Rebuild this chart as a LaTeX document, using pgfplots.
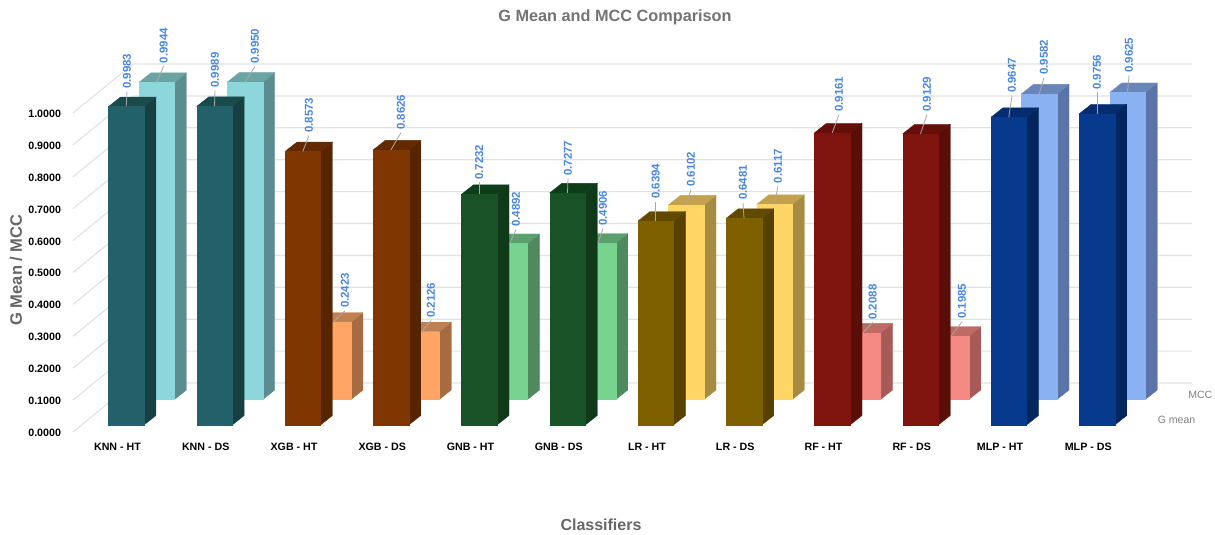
\documentclass[border=0pt]{standalone}
\usepackage{fontspec}
\setmainfont{Liberation Sans}
\usepackage{pgfplots}
\usepackage{pgfplotstable}
\pgfplotsset{compat=1.18}

% front, side and top face colours per classifier, G mean row (g) and MCC row (m)
\definecolor{gf0}{HTML}{22606A}\definecolor{gs0}{HTML}{173F42}\definecolor{gt0}{HTML}{194A4C}
\definecolor{mf0}{HTML}{8DD6DC}\definecolor{ms0}{HTML}{5A8C90}\definecolor{mt0}{HTML}{6BA5A3}
\definecolor{gf1}{HTML}{7F3600}\definecolor{gs1}{HTML}{572400}\definecolor{gt1}{HTML}{632A00}
\definecolor{mf1}{HTML}{FFA566}\definecolor{ms1}{HTML}{A66B40}\definecolor{mt1}{HTML}{C08050}
\definecolor{gf2}{HTML}{1A5228}\definecolor{gs2}{HTML}{0F3A1A}\definecolor{gt2}{HTML}{0E3D1A}
\definecolor{mf2}{HTML}{78D391}\definecolor{ms2}{HTML}{4E8A5E}\definecolor{mt2}{HTML}{5AA06E}
\definecolor{gf3}{HTML}{7F6000}\definecolor{gs3}{HTML}{574100}\definecolor{gt3}{HTML}{614A00}
\definecolor{mf3}{HTML}{FFD666}\definecolor{ms3}{HTML}{A68B42}\definecolor{mt3}{HTML}{C2A24E}
\definecolor{gf4}{HTML}{7F140E}\definecolor{gs4}{HTML}{590E08}\definecolor{gt4}{HTML}{660F0A}
\definecolor{mf4}{HTML}{F58A84}\definecolor{ms4}{HTML}{A85A56}\definecolor{mt4}{HTML}{BF6A64}
\definecolor{gf5}{HTML}{073A8C}\definecolor{gs5}{HTML}{04265E}\definecolor{gt5}{HTML}{052C6E}
\definecolor{mf5}{HTML}{8AB2F2}\definecolor{ms5}{HTML}{5A74A8}\definecolor{mt5}{HTML}{6887B8}
\definecolor{gridgray}{HTML}{E2E2E2}
\definecolor{labelblue}{HTML}{4A86E0}
\definecolor{leader}{HTML}{A8A8A8}

% One row per classifier; gdx/gup and mdx/mup place the value label relative to its bar
\pgfplotstableread{
c  group gmean  gdx   gup   mcc    mdx   mup
0  0     0.9983 0.75  17.5  0.9944 7     19
1  0     0.9989 0.5   18.4  0.9950 10    18
2  1     0.8573 6.25  18.5  0.2423 11.75 14
3  1     0.8626 10    19.8  0.2126 9.5   13.7
4  2     0.7232 0     14.3  0.4892 6.25  16.4
5  2     0.7277 0.5   16.9  0.4906 5     17
6  3     0.6394 0     22    0.6102 4.75  17.8
7  3     0.6481 -1    18    0.6117 3.5   21
8  4     0.9161 6.75  20.8  0.2088 10    13
9  4     0.9129 6.5   21.8  0.1985 11    17
10 5     0.9647 3.25  24    0.9582 4.75  18.8
11 5     0.9756 0     23.8  0.9625 1.5   19.5
}\scores

\newcommand{\ux}{88.25} % length of one category along x
\newcommand{\uy}{319}   % length of one unit along y

% #1 category, #2 value, #3 row shift x, #4 row shift y, #5 row letter, #6 group number
\newcommand{\cuboid}[6]{%
  \pgfmathsetmacro{\xl}{#1+(#3-17.75)/\ux}%
  \pgfmathsetmacro{\xr}{#1+(#3+17.75)/\ux}%
  \pgfmathsetmacro{\xdl}{\xl+12/\ux}%
  \pgfmathsetmacro{\xdr}{\xr+12/\ux}%
  \pgfmathsetmacro{\yb}{#4/\uy}%
  \pgfmathsetmacro{\yt}{#2+#4/\uy}%
  \pgfmathsetmacro{\ydb}{\yb+9.5/\uy}%
  \pgfmathsetmacro{\ydt}{\yt+9.5/\uy}%
  \edef\faces{%
    \noexpand\addplot[fill=#5s#6,draw=#5s#6,line width=0.25pt,forget plot] coordinates {(\xr,\yb)(\xdr,\ydb)(\xdr,\ydt)(\xr,\yt)} --cycle;
    \noexpand\addplot[fill=#5t#6,draw=#5t#6,line width=0.25pt,forget plot] coordinates {(\xl,\yt)(\xr,\yt)(\xdr,\ydt)(\xdl,\ydt)} --cycle;
    \noexpand\addplot[fill=#5f#6,draw=#5f#6,line width=0.25pt,forget plot] coordinates {(\xl,\yb)(\xr,\yb)(\xr,\yt)(\xl,\yt)} --cycle;
  }\faces
}

% #1 category, #2 value, #3 row shift x, #4 row shift y, #5 label shift x, #6 label rise
\newcommand{\barlabel}[6]{%
  \pgfmathsetmacro{\xa}{#1+#3/\ux}%
  \pgfmathsetmacro{\ya}{#2+#4/\uy}%
  \pgfmathsetmacro{\xb}{\xa+#5/\ux}%
  \pgfmathsetmacro{\yb}{\ya+#6/\uy}%
  \pgfmathsetmacro{\yc}{\ya+(#6-2.5)/\uy}%
  \edef\lab{%
    \noexpand\addplot[leader,line width=0.6pt,forget plot] coordinates {(\xa,\ya)(\xb,\yc)};
    \noexpand\node[rotate=90,anchor=west,inner sep=0pt,text=labelblue,
      font=\noexpand\fontsize{8.6}{10}\noexpand\selectfont\noexpand\bfseries]
      at (axis cs:\xb,\yb) {#2};
  }\lab
}

\begin{document}
\begin{tikzpicture}[x=1pt,y=1pt]
\useasboundingbox (-54.75,-77.25) rectangle (856.5,324);
\begin{axis}[
  scale only axis,
  width=797.25pt, height=239.25pt,
  xmin=-0.5042, xmax=11.541, ymin=0, ymax=1,
  clip=false,
  axis line style={draw=none},
  major tick length=0pt,
  xtick={0,1,2,3,4,5,6,7,8,9,10,11},
  xticklabels={KNN - HT,KNN - DS,XGB - HT,XGB - DS,GNB - HT,GNB - DS,LR - HT,LR - DS,RF - HT,RF - DS,MLP - HT,MLP - DS},
  ytick={0,0.1,0.2,0.3,0.4,0.5,0.6,0.7,0.8,0.9,1},
  /pgf/number format/fixed,
  /pgf/number format/fixed zerofill,
  /pgf/number format/precision=4,
  /pgf/number format/assume math mode=true,
  tick label style={font=\fontsize{8}{10}\selectfont\bfseries,text=black},
  xticklabel style={yshift=-4.6pt},
  yticklabel style={xshift=-5.5pt,yshift=-0.6pt},
  title={G Mean and MCC Comparison},
  title style={at={(axis description cs:0.5099,1.276)},anchor=center,text=black!55,
    font=\fontsize{12.2}{14}\selectfont\bfseries},
  xlabel={Classifiers},
  xlabel style={at={(axis description cs:0.4967,-0.2915)},anchor=center,text=black!60,
    font=\fontsize{12}{14}\selectfont\bfseries},
  ylabel={G Mean / MCC},
  ylabel style={at={(axis description cs:-0.0536,0.508)},anchor=center,text=black!60,
    font=\fontsize{12.4}{14}\selectfont\bfseries},
]
% floor and back wall guide lines
\pgfplotsforeachungrouped \k in {0,...,10}{%
  \pgfmathsetmacro{\v}{\k/10}%
  \pgfmathsetmacro{\vb}{\v+49/\uy}%
  \edef\guides{%
    \noexpand\addplot[gridgray,line width=0.9pt,forget plot] coordinates {(-0.5042,\v)(0.1757,\vb)(12.1756,\vb)};
  }\guides
}
% MCC row sits behind the G mean row
\pgfplotsforeachungrouped \i in {0,...,11}{%
  \pgfplotstablegetelem{\i}{mcc}\of\scores\let\val\pgfplotsretval
  \pgfplotstablegetelem{\i}{group}\of\scores\let\grp\pgfplotsretval
  \cuboid{\i}{\val}{39.25}{32.5}{m}{\grp}%
}
\pgfplotsforeachungrouped \i in {0,...,11}{%
  \pgfplotstablegetelem{\i}{gmean}\of\scores\let\val\pgfplotsretval
  \pgfplotstablegetelem{\i}{group}\of\scores\let\grp\pgfplotsretval
  \cuboid{\i}{\val}{8.75}{7}{g}{\grp}%
}
% value labels with their leader lines
\pgfplotsforeachungrouped \i in {0,...,11}{%
  \pgfplotstablegetelem{\i}{mcc}\of\scores\let\val\pgfplotsretval
  \pgfplotstablegetelem{\i}{mdx}\of\scores\let\ldx\pgfplotsretval
  \pgfplotstablegetelem{\i}{mup}\of\scores\let\lup\pgfplotsretval
  \barlabel{\i}{\val}{39.25}{32.5}{\ldx}{\lup}%
  \pgfplotstablegetelem{\i}{gmean}\of\scores\let\val\pgfplotsretval
  \pgfplotstablegetelem{\i}{gdx}\of\scores\let\ldx\pgfplotsretval
  \pgfplotstablegetelem{\i}{gup}\of\scores\let\lup\pgfplotsretval
  \barlabel{\i}{\val}{8.75}{7}{\ldx}{\lup}%
}
% depth axis labels
\node[anchor=center,text=black!50,font=\fontsize{7.9}{10}\selectfont] at (axis cs:12.27,0.1160) {MCC};
\node[anchor=center,text=black!50,font=\fontsize{7.9}{10}\selectfont] at (axis cs:12.0,0.0376) {G mean};
\end{axis}
\end{tikzpicture}
\end{document}
